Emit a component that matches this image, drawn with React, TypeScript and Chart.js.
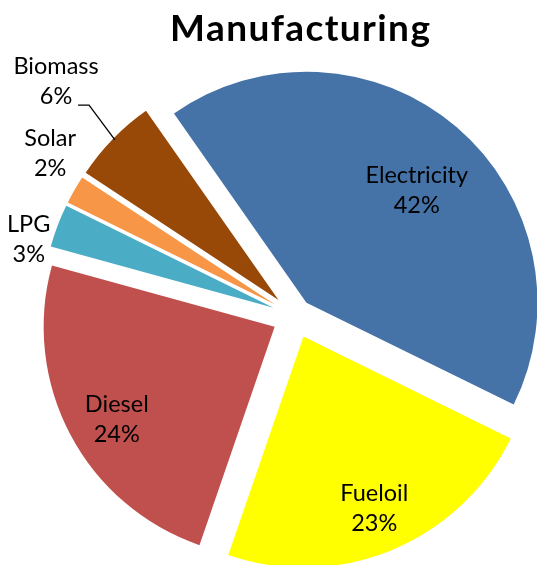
import React, { useEffect, useRef } from "react";
import { Chart, registerables } from "chart.js";

Chart.register(...registerables);

// ---- data ----
const categories = ["Electricity", "Fueloil", "Diesel", "LPG", "Solar", "Biomass"];
const shares = [42, 23, 24, 3, 2, 6];
const colors = ["#4572A7", "#FFFF00", "#C0504D", "#4BACC6", "#F79646", "#984807"];
const titleText = "Manufacturing";

// ---- layout (pixels / degrees) ----
const explode = [17.6, 22.3, 23, 23, 23, 23];
const labelDist = [175, 208, 206, 277, 294, 335];
const labelDeltaDeg = [3.5, 0, -2.3, -4.8, 3.8, 0.3];
const leader = [false, false, false, false, false, true];
const PIE_RADIUS = 231;
const LABEL_FONT = "23.5px Lato";
const TITLE_FONT = "bold 37px Lato";

const explodePlugin = {
  id: "explodeSlices",
  afterDatasetUpdate(chart: any, args: any) {
    const meta = chart.getDatasetMeta(args.index);
    meta.data.forEach((arc: any, i: number) => {
      const cx = arc.x;
      const cy = arc.y;
      chart.$pieCenter = { x: cx, y: cy, r: arc.outerRadius };
      const mid = (arc.startAngle + arc.endAngle) / 2;
      arc.x = cx + Math.cos(mid) * explode[i];
      arc.y = cy + Math.sin(mid) * explode[i];
    });
  },
};

const labelPlugin = {
  id: "sliceLabels",
  afterDatasetsDraw(chart: any) {
    const ctx = chart.ctx as CanvasRenderingContext2D;
    const meta = chart.getDatasetMeta(0);
    const c = chart.$pieCenter;
    if (!c) return;
    ctx.save();
    ctx.fillStyle = "#000";
    ctx.strokeStyle = "#000";
    ctx.textAlign = "center";
    ctx.textBaseline = "alphabetic";
    ctx.font = LABEL_FONT;
    meta.data.forEach((arc: any, i: number) => {
      const mid = (arc.startAngle + arc.endAngle) / 2;
      const a = mid + (labelDeltaDeg[i] * Math.PI) / 180;
      const lx = c.x + Math.cos(a) * labelDist[i];
      const ly = c.y + Math.sin(a) * labelDist[i];
      ctx.fillText(categories[i], lx, ly - 7.5);
      ctx.fillText(shares[i] + "%", lx, ly + 22.5);
      if (leader[i]) {
        const ex = c.x + Math.cos(mid) * (c.r + explode[i]);
        const ey = c.y + Math.sin(mid) * (c.r + explode[i]);
        ctx.lineWidth = 1.3;
        ctx.beginPath();
        ctx.moveTo(lx + 22, ly + 24);
        ctx.lineTo(lx + 33, ly + 24);
        ctx.lineTo(ex + 2, ey + 1);
        ctx.stroke();
      }
    });
    ctx.font = TITLE_FONT;
    (ctx as any).letterSpacing = "1.4px";
    ctx.fillText(titleText, 300.7, 41);
    ctx.restore();
  },
};

export default function App() {
  const ref = useRef<HTMLCanvasElement | null>(null);
  useEffect(() => {
    if (!ref.current) return;
    const chart = new Chart(ref.current, {
      type: "pie",
      data: {
        labels: categories,
        datasets: [
          {
            data: shares,
            backgroundColor: colors,
            borderWidth: 0,
          },
        ],
      },
      options: {
        responsive: false,
        animation: false,
        devicePixelRatio: 1,
        events: [],
        rotation: -35,
        radius: PIE_RADIUS,
        layout: { padding: { left: 53, top: 67, right: 0, bottom: 0 } },
        plugins: {
          legend: { display: false },
          title: { display: false },
          tooltip: { enabled: false },
        },
      },
      plugins: [explodePlugin, labelPlugin],
    });
    return () => chart.destroy();
  }, []);
  return (
    <div style={{ position: "absolute", left: 0, top: 0, width: 537, height: 565 }}>
      <canvas ref={ref} width={537} height={565} style={{ display: "block" }} />
    </div>
  );
}
